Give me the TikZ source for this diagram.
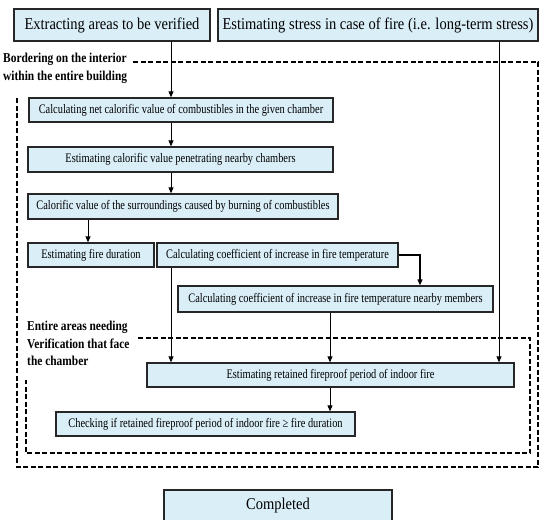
\documentclass[tikz,border=0pt]{standalone}
\usepackage{fontspec}
\setmainfont{Liberation Serif}
\newfontfamily\bigfont{Liberation Serif}[FakeStretch=0.88]
\newfontfamily\boxfont{Liberation Serif}[FakeStretch=0.8]
\newfontfamily\labfont{Liberation Serif}[FakeStretch=0.84]
\usetikzlibrary{arrows.meta}
\tikzset {>={Triangle[length=6pt,width=5pt]}}
\definecolor{boxblue}{RGB}{218,238,248}
\tikzset{
  stepbox/.style={draw=black!85,line width=1.3pt,fill=boxblue,inner sep=0pt,
    font=\boxfont\fontsize{13}{15}\selectfont},
  bigbox/.style={stepbox,font=\bigfont\fontsize{16.5}{19}\selectfont},
  zone/.style={line width=1.5pt,dash pattern=on 5pt off 2.5pt},
  flow/.style={->,line width=0.8pt},
  zonelabel/.style={anchor=north west,inner sep=0pt,align=left,
    font=\labfont\bfseries\fontsize{13.6}{17.5}\selectfont}
}

\begin{document}
\begin{tikzpicture}[x=1pt,y=-1pt]
\useasboundingbox (0,0) rectangle (545,519);

% dashed zones
\draw[zone]
  (133,62) coordinate (O1) --
  (538,62) coordinate (O2) --
  (538,467) coordinate (O3) --
  (17,467) coordinate (O4) --
  (17,97) coordinate (O5);
\draw[zone]
  (138,338) coordinate (I1) --
  (530,338) coordinate (I2) --
  (530,453) coordinate (I3) --
  (26,453) coordinate (I4) --
  (26,380) coordinate (I5);

\node[zonelabel] (outerlabel) at (3,53)
  {Bordering on the interior\\within the entire building};
\node[zonelabel] (innerlabel) at (27,321)
  {Entire areas needing\\Verification that face\\the chamber};

% steps
\node[bigbox,minimum width=196pt,minimum height=32pt] (extract) at (112,25)
  {Extracting areas to be verified};
\node[bigbox,minimum width=320pt,minimum height=32pt] (stress) at (378,25)
  {Estimating stress in case of fire (i.e. long-term stress)};
\node[stepbox,minimum width=304pt,minimum height=24pt] (netcal) at (181,110)
  {Calculating net calorific value of combustibles in the given chamber};
\node[stepbox,minimum width=305pt,minimum height=25pt] (penetrate) at (180.5,159.5)
  {Estimating calorific value penetrating nearby chambers};
\node[stepbox,minimum width=310pt,minimum height=25pt] (surround) at (183,206.5)
  {Calorific value of the surroundings caused by burning of combustibles};
\node[stepbox,minimum width=126pt,minimum height=24pt] (duration) at (91,255)
  {Estimating fire duration};
\node[stepbox,minimum width=241pt,minimum height=24pt] (coeff) at (277.5,255)
  {Calculating coefficient of increase in fire temperature};
\node[stepbox,minimum width=315pt,minimum height=26pt] (coeffnear) at (335.5,299)
  {Calculating coefficient of increase in fire temperature nearby members};
\node[stepbox,minimum width=367pt,minimum height=24pt] (retained) at (330.5,375)
  {Estimating retained fireproof period of indoor fire};
\node[stepbox,minimum width=299pt,minimum height=24pt] (check) at (205.5,424)
  {Checking if retained fireproof period of indoor fire ≥ fire duration};
\node[bigbox,minimum width=228pt,minimum height=32pt] (done) at (278,506)
  {Completed};

% connector columns
\path
  (171,0) coordinate (c1)
  (88,0) coordinate (c2)
  (420,0) coordinate (c3)
  (330,0) coordinate (c4)
  (499,0) coordinate (c5);

\draw[flow] (extract.south -| c1) -- (netcal.north -| c1);
\draw[flow] (netcal.south -| c1) -- (penetrate.north -| c1);
\draw[flow] (penetrate.south -| c1) -- (surround.north -| c1);
\draw[flow] (surround.south -| c2) -- (duration.north -| c2);
\draw[flow,line width=1.1pt] (coeff.east) -- (coeff.east -| c3) -- (coeffnear.north -| c3);
\draw[flow] (coeff.south -| c1) -- (retained.north -| c1);
\draw[flow] (coeffnear.south -| c4) -- (retained.north -| c4);
\draw[flow] (stress.south -| c5) -- (retained.north -| c5);
\draw[flow] (retained.south -| c4) -- (check.north -| c4);
\end{tikzpicture}
\end{document}
